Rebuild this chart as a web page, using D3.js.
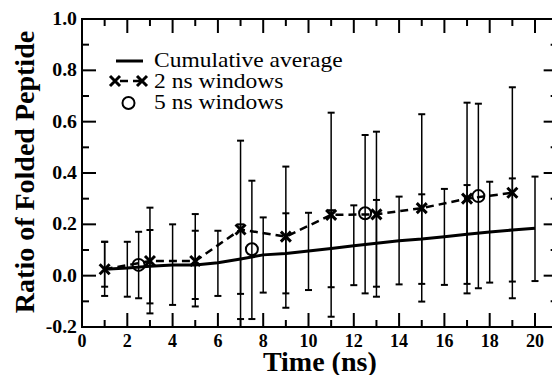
<!DOCTYPE html>
<html>
<head>
<meta charset="utf-8">
<script src="https://cdn.jsdelivr.net/npm/d3@7"></script>
<style>
  html, body { margin: 0; padding: 0; background: #fff; }
  svg { display: block; }
</style>
</head>
<body>
<svg id="chart" width="552" height="375"></svg>
<script>
// cumulative average, every ns
const cumTime = [1, 2, 3, 4, 5, 6, 7, 8, 9, 10, 11, 12, 13, 14, 15, 16, 17, 18, 19, 20];
const cumAvg  = [0.025, 0.03, 0.037, 0.042, 0.042, 0.05, 0.065, 0.081, 0.086, 0.096,
                 0.106, 0.117, 0.126, 0.136, 0.143, 0.152, 0.161, 0.17, 0.178, 0.185];
const cumLow  = [-0.079, -0.082, -0.108, -0.114, -0.091, -0.079, -0.071, -0.066, -0.069, -0.056,
                 -0.045, -0.037, -0.043, -0.034, -0.032, -0.036, -0.032, -0.027, -0.023, -0.021];
const cumHigh = [0.132, 0.132, 0.178, 0.2, 0.175, 0.175, 0.2, 0.227, 0.243, 0.245,
                 0.255, 0.274, 0.295, 0.308, 0.317, 0.338, 0.353, 0.366, 0.379, 0.386];

// 2 ns windows
const win2Time = [1, 3, 5, 7, 9, 11, 13, 15, 17, 19];
const win2Val  = [0.025, 0.057, 0.057, 0.18, 0.152, 0.237, 0.239, 0.263, 0.3, 0.323];
const win2Low  = [-0.043, -0.147, -0.12, -0.169, -0.125, -0.16, -0.082, -0.101, -0.069, -0.088];
const win2High = [0.132, 0.265, 0.24, 0.526, 0.425, 0.635, 0.561, 0.629, 0.674, 0.734];

// 5 ns windows
const win5Time = [2.5, 7.5, 12.5, 17.5];
const win5Val  = [0.042, 0.103, 0.243, 0.31];
const win5Low  = [-0.088, -0.169, -0.069, -0.049];
const win5High = [0.171, 0.37, 0.548, 0.67];

const xTicks = [0, 2, 4, 6, 8, 10, 12, 14, 16, 18, 20];
const yTicks = [-0.2, 0, 0.2, 0.4, 0.6, 0.8, 1.0];
const legendLabels = ['Cumulative average', '2 ns windows', '5 ns windows'];

const FONT = 'Liberation Serif';
const svg = d3.select('#chart');
const plotLeft = 82, plotTop = 19, plotBottom = 327;

const x = d3.scaleLinear().domain([0, 21]).range([plotLeft, plotLeft + 21 * 22.65]);
const y = d3.scaleLinear().domain([-0.2, 1.0]).range([plotBottom, plotTop]);
const plotRight = x(21);

// ticks, major every 2 / 0.2, minor in between
const g = svg.append('g');
const xMinor = d3.range(1, 21, 2);
const yMinor = [-0.1, 0.1, 0.3, 0.5, 0.7, 0.9];
const tick = (x1, y1, x2, y2) => g.append('line')
  .attr('x1', x1).attr('y1', y1).attr('x2', x2).attr('y2', y2)
  .attr('stroke', '#000').attr('stroke-width', 2);

xTicks.concat(xMinor).forEach((t) => {
  const len = xMinor.includes(t) ? 7 : 14;
  tick(x(t), plotBottom, x(t), plotBottom - len);
  tick(x(t), plotTop, x(t), plotTop + len);
});
yTicks.concat(yMinor).forEach((v) => {
  const len = yMinor.includes(v) ? 7 : 14;
  tick(plotLeft, y(v), plotLeft + len, y(v));
  tick(plotRight, y(v), plotRight - len, y(v));
});

svg.append('rect').attr('x', plotLeft).attr('y', plotTop)
  .attr('width', plotRight - plotLeft).attr('height', plotBottom - plotTop)
  .attr('fill', 'none').attr('stroke', '#000').attr('stroke-width', 2);

// tick labels
svg.append('g').selectAll('text').data(xTicks).enter().append('text')
  .attr('font-family', FONT).attr('font-size', 18).attr('font-weight', 'bold')
  .attr('text-anchor', 'middle')
  .attr('x', (d) => x(d)).attr('y', plotBottom + 20)
  .text((d) => d);
svg.append('g').selectAll('text').data(yTicks).enter().append('text')
  .attr('font-family', FONT).attr('font-size', 18).attr('font-weight', 'bold')
  .attr('text-anchor', 'end')
  .attr('transform', (d) => `translate(${plotLeft - 5},${y(d) + 6})scale(1.1,1)`)
  .text((d) => d3.format('.1f')(d).replace('−', '-'));

// axis titles
svg.append('text').attr('font-family', FONT).attr('font-size', 28).attr('font-weight', 'bold')
  .attr('text-anchor', 'middle')
  .attr('x', x(10.5)).attr('y', 371).text('Time (ns)');
svg.append('text').attr('font-family', FONT).attr('font-size', 28).attr('font-weight', 'bold')
  .attr('text-anchor', 'middle')
  .attr('transform', 'translate(34,' + ((plotTop + plotBottom) / 2 - 1) + ')rotate(-90)')
  .text('Ratio of Folded Peptide');

// error bars
const errorBars = (times, lows, highs) => {
  const eb = svg.append('g');
  times.forEach((t, i) => {
    eb.append('line').attr('x1', x(t)).attr('x2', x(t))
      .attr('y1', y(lows[i])).attr('y2', y(highs[i]))
      .attr('stroke', '#000').attr('stroke-width', 1.5);
    [lows[i], highs[i]].forEach((v) => {
      eb.append('line').attr('x1', x(t) - 3.5).attr('x2', x(t) + 3.5)
        .attr('y1', y(v)).attr('y2', y(v))
        .attr('stroke', '#000').attr('stroke-width', 2);
    });
  });
};
errorBars(cumTime, cumLow, cumHigh);
errorBars(win2Time, win2Low, win2High);
errorBars(win5Time, win5Low, win5High);

// lines
const line = d3.line().x((d) => x(d[0])).y((d) => y(d[1]));
svg.append('path').datum(cumTime.map((t, i) => [t, cumAvg[i]]))
  .attr('d', line).attr('fill', 'none').attr('stroke', '#000').attr('stroke-width', 3);
svg.append('path').datum(win2Time.map((t, i) => [t, win2Val[i]]))
  .attr('d', line).attr('fill', 'none').attr('stroke', '#000')
  .attr('stroke-width', 2.5).attr('stroke-dasharray', '8,5');

// markers
const cross = (sel, cx, cy) => {
  const s = 5;
  sel.append('path')
    .attr('d', `M${cx - s},${cy - s}L${cx + s},${cy + s}M${cx - s},${cy + s}L${cx + s},${cy - s}`)
    .attr('stroke', '#000').attr('stroke-width', 3);
};
win2Time.forEach((t, i) => cross(svg, x(t), y(win2Val[i])));
svg.append('g').selectAll('circle').data(win5Time).enter().append('circle')
  .attr('cx', (d) => x(d)).attr('cy', (d, i) => y(win5Val[i])).attr('r', 6)
  .attr('fill', 'none').attr('stroke', '#000').attr('stroke-width', 2);

// legend
const lg = svg.append('g');
lg.append('line').attr('x1', 116).attr('x2', 143).attr('y1', 61).attr('y2', 61)
  .attr('stroke', '#000').attr('stroke-width', 3);
lg.append('line').attr('x1', 115).attr('x2', 142).attr('y1', 81).attr('y2', 81)
  .attr('stroke', '#000').attr('stroke-width', 2.5).attr('stroke-dasharray', '8,5')
  .attr('stroke-dashoffset', -5);
cross(lg, 115, 81);
cross(lg, 142, 81);
lg.append('circle').attr('cx', 128.5).attr('cy', 103).attr('r', 6)
  .attr('fill', 'none').attr('stroke', '#000').attr('stroke-width', 2);
legendLabels.forEach((label, i) => {
  lg.append('text').attr('font-family', FONT).attr('font-size', 21)
    .attr('transform', `translate(154,${67 + i * 21})scale(1.12,1)`)
    .text(label);
});
</script>
</body>
</html>
